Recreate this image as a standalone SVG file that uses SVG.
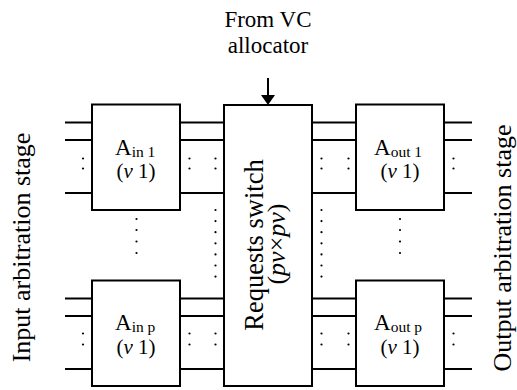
<svg xmlns="http://www.w3.org/2000/svg" width="517" height="390" viewBox="0 0 517 390">
<defs>
<circle id="d" r="1.1" fill="#000"/>
</defs>
<rect width="517" height="390" fill="#fff"/>
<g id="connectors" stroke="#000" stroke-width="2" fill="none">
<path d="M65,122.5H92M65,140H92M65,193H92M180,122.5H224M180,140H224M180,193H224M312,122.5H356M312,140H356M312,193H356M444,122.5H472M444,140H472M444,193H472"/>
<path d="M65,298.5H92M65,316H92M65,369H92M180,298.5H224M180,316H224M180,369H224M312,298.5H356M312,316H356M312,369H356M444,298.5H472M444,316H472M444,369H472"/>
<line x1="268" y1="78" x2="268" y2="95"/>
<path d="M261,95 L275,95 L268,105 Z" fill="#000" stroke="none"/>
</g>
<g id="ellipses">
<use href="#d" x="83" y="158.5"/><use href="#d" x="83" y="168.5"/>
<use href="#d" x="189.5" y="158.5"/><use href="#d" x="189.5" y="168.5"/>
<use href="#d" x="215.5" y="158.5"/><use href="#d" x="215.5" y="168.5"/>
<use href="#d" x="321.5" y="158.5"/><use href="#d" x="321.5" y="168.5"/>
<use href="#d" x="348.5" y="158.5"/><use href="#d" x="348.5" y="168.5"/>
<use href="#d" x="453.5" y="158.5"/><use href="#d" x="453.5" y="168.5"/>
<use href="#d" x="83" y="333.5"/><use href="#d" x="83" y="344.5"/>
<use href="#d" x="189.5" y="333.5"/><use href="#d" x="189.5" y="344.5"/>
<use href="#d" x="215.5" y="333.5"/><use href="#d" x="215.5" y="344.5"/>
<use href="#d" x="321.5" y="333.5"/><use href="#d" x="321.5" y="344.5"/>
<use href="#d" x="348.5" y="333.5"/><use href="#d" x="348.5" y="344.5"/>
<use href="#d" x="453.5" y="333.5"/><use href="#d" x="453.5" y="344.5"/>
<use href="#d" x="136.5" y="219"/><use href="#d" x="136.5" y="230"/><use href="#d" x="136.5" y="241.5"/><use href="#d" x="136.5" y="253"/>
<use href="#d" x="400" y="219"/><use href="#d" x="400" y="230"/><use href="#d" x="400" y="241.5"/><use href="#d" x="400" y="253"/>
<use href="#d" x="215.5" y="210"/><use href="#d" x="215.5" y="221.1"/><use href="#d" x="215.5" y="232.2"/><use href="#d" x="215.5" y="243.3"/><use href="#d" x="215.5" y="254.4"/><use href="#d" x="215.5" y="265.5"/><use href="#d" x="215.5" y="276.6"/>
<use href="#d" x="321.5" y="210"/><use href="#d" x="321.5" y="221.1"/><use href="#d" x="321.5" y="232.2"/><use href="#d" x="321.5" y="243.3"/><use href="#d" x="321.5" y="254.4"/><use href="#d" x="321.5" y="265.5"/><use href="#d" x="321.5" y="276.6"/>
</g>
<g id="ain1">
<rect x="92" y="104.5" width="88" height="105.5" fill="#fff" stroke="#000" stroke-width="2"/>
<text font-family="Liberation Serif" x="115" y="155" font-size="23">A<tspan font-size="15.5" dy="2">in 1</tspan></text>
<text font-family="Liberation Serif" x="136" y="178" font-size="21" text-anchor="middle">(<tspan font-style="italic">v</tspan> 1)</text>
</g>
<g id="ainp">
<rect x="92" y="280.5" width="88" height="105.5" fill="#fff" stroke="#000" stroke-width="2"/>
<text font-family="Liberation Serif" x="115" y="330" font-size="23">A<tspan font-size="15.5" dy="2">in p</tspan></text>
<text font-family="Liberation Serif" x="136" y="354" font-size="21" text-anchor="middle">(<tspan font-style="italic">v</tspan> 1)</text>
</g>
<g id="switch">
<rect x="224" y="105" width="88" height="281" fill="#fff" stroke="#000" stroke-width="2"/>
<text font-family="Liberation Serif" transform="translate(263,245) rotate(-90)" font-size="26.5" text-anchor="middle">Requests switch</text>
<text font-family="Liberation Serif" transform="translate(285,244) rotate(-90)" font-size="26" text-anchor="middle">(<tspan font-style="italic">pv</tspan>&#215;<tspan font-style="italic">pv</tspan>)</text>
</g>
<g id="aout1">
<rect x="356" y="104.5" width="88" height="105.5" fill="#fff" stroke="#000" stroke-width="2"/>
<text font-family="Liberation Serif" x="374" y="155" font-size="23">A<tspan font-size="15.5" dy="2">out 1</tspan></text>
<text font-family="Liberation Serif" x="400" y="178" font-size="21" text-anchor="middle">(<tspan font-style="italic">v</tspan> 1)</text>
</g>
<g id="aoutp">
<rect x="356" y="280.5" width="88" height="105.5" fill="#fff" stroke="#000" stroke-width="2"/>
<text font-family="Liberation Serif" x="374" y="330" font-size="23">A<tspan font-size="15.5" dy="2">out p</tspan></text>
<text font-family="Liberation Serif" x="400" y="354" font-size="21" text-anchor="middle">(<tspan font-style="italic">v</tspan> 1)</text>
</g>
<g id="from-vc">
<text font-family="Liberation Serif" x="268" y="27" font-size="23" text-anchor="middle">From VC</text>
<text font-family="Liberation Serif" x="268" y="53" font-size="23" text-anchor="middle">allocator</text>
</g>
<g id="input-stage">
<text font-family="Liberation Serif" transform="translate(30,247.5) rotate(-90)" font-size="26" text-anchor="middle">Input arbitration stage</text>
</g>
<g id="output-stage">
<text font-family="Liberation Serif" transform="translate(511,248) rotate(-90)" font-size="26" text-anchor="middle">Output arbitration stage</text>
</g>
</svg>
